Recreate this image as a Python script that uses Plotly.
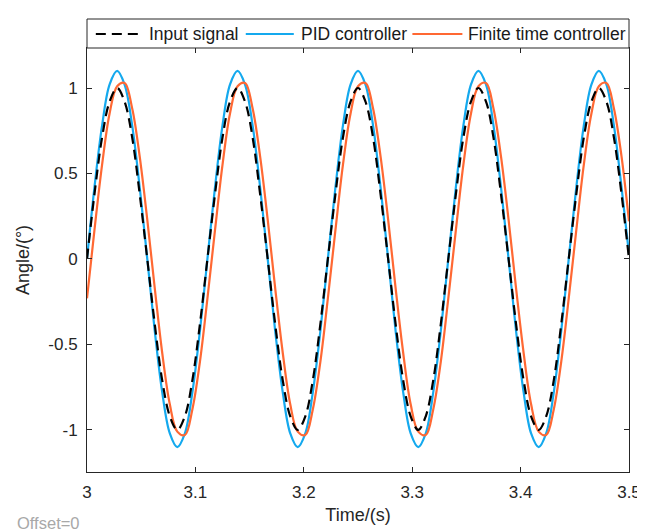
import plotly.graph_objects as go

# Time stamps (s)
time_s = [3.0000, 3.0069, 3.0139, 3.0208, 3.0278, 3.0347, 3.0417, 3.0486, 3.0556, 3.0625,
          3.0694, 3.0764, 3.0833, 3.0903, 3.0972, 3.1042, 3.1111, 3.1181, 3.1250, 3.1319,
          3.1389, 3.1458, 3.1528, 3.1597, 3.1667, 3.1736, 3.1806, 3.1875, 3.1944, 3.2014,
          3.2083, 3.2153, 3.2222, 3.2292, 3.2361, 3.2431, 3.2500, 3.2569, 3.2639, 3.2708,
          3.2778, 3.2847, 3.2917, 3.2986, 3.3056, 3.3125, 3.3194, 3.3264, 3.3333, 3.3403,
          3.3472, 3.3542, 3.3611, 3.3681, 3.3750, 3.3819, 3.3889, 3.3958, 3.4028, 3.4097,
          3.4167, 3.4236, 3.4306, 3.4375, 3.4444, 3.4514, 3.4583, 3.4653, 3.4722, 3.4792,
          3.4861, 3.4931, 3.5000]

# Angle values (deg)
input_signal = [0.00, 0.38, 0.71, 0.92, 1.00, 0.92, 0.71, 0.38, 0.00, -0.38, -0.71, -0.92, -1.00, -0.92, -0.71, -0.38,
                0.00, 0.38, 0.71, 0.92, 1.00, 0.92, 0.71, 0.38, 0.00, -0.38, -0.71, -0.92, -1.00, -0.92, -0.71, -0.38,
                0.00, 0.38, 0.71, 0.92, 1.00, 0.92, 0.71, 0.38, 0.00, -0.38, -0.71, -0.92, -1.00, -0.92, -0.71, -0.38,
                0.00, 0.38, 0.71, 0.92, 1.00, 0.92, 0.71, 0.38, 0.00, -0.38, -0.71, -0.92, -1.00, -0.92, -0.71, -0.38,
                0.00, 0.38, 0.71, 0.92, 1.00, 0.92, 0.71, 0.38, 0.00]

pid_controller = [0.00, 0.42, 0.78, 1.02, 1.10, 1.02, 0.78, 0.42, 0.00, -0.42, -0.78, -1.02, -1.10, -1.02, -0.78, -0.42,
                  0.00, 0.42, 0.78, 1.02, 1.10, 1.02, 0.78, 0.42, 0.00, -0.42, -0.78, -1.02, -1.10, -1.02, -0.78, -0.42,
                  0.00, 0.42, 0.78, 1.02, 1.10, 1.02, 0.78, 0.42, 0.00, -0.42, -0.78, -1.02, -1.10, -1.02, -0.78, -0.42,
                  0.00, 0.42, 0.78, 1.02, 1.10, 1.02, 0.78, 0.42, 0.00, -0.42, -0.78, -1.02, -1.10, -1.02, -0.78, -0.42,
                  0.00, 0.42, 0.78, 1.02, 1.10, 1.02, 0.78, 0.42, 0.03]

finite_time_controller = [-0.23, 0.17, 0.55, 0.85, 1.01, 1.03, 0.88, 0.60, 0.23, -0.17, -0.55, -0.85, -1.01, -1.03, -0.88, -0.60,
                          -0.23, 0.17, 0.55, 0.85, 1.01, 1.03, 0.88, 0.60, 0.23, -0.17, -0.55, -0.85, -1.01, -1.03, -0.88, -0.60,
                          -0.23, 0.17, 0.55, 0.85, 1.01, 1.03, 0.88, 0.60, 0.23, -0.17, -0.55, -0.85, -1.01, -1.03, -0.88, -0.60,
                          -0.23, 0.17, 0.55, 0.85, 1.01, 1.03, 0.88, 0.60, 0.23, -0.17, -0.55, -0.85, -1.01, -1.03, -0.88, -0.60,
                          -0.23, 0.17, 0.55, 0.85, 1.01, 1.03, 0.88, 0.60, 0.22]

x_ticks = [3, 3.1, 3.2, 3.3, 3.4, 3.5]
x_tick_labels = ["3", "3.1", "3.2", "3.3", "3.4", "3.5"]
y_ticks = [-1, -0.5, 0, 0.5, 1]
y_tick_labels = ["-1", "-0.5", "0", "0.5", "1"]
series_names = ["Input signal", "PID controller", "Finite time controller"]

BLACK = "#000000"
CYAN = "#14A9EE"
ORANGE = "#FF6833"
AX = "#262626"
FONT = "Liberation Sans, Arial, sans-serif"

fig = go.Figure()
fig.add_trace(go.Scatter(x=time_s, y=pid_controller, mode="lines", name=series_names[1],
                         line=dict(color=CYAN, width=2.2, shape="spline", smoothing=1.0), showlegend=False))
fig.add_trace(go.Scatter(x=time_s, y=finite_time_controller, mode="lines", name=series_names[2],
                         line=dict(color=ORANGE, width=2.2, shape="spline", smoothing=1.0), showlegend=False))
fig.add_trace(go.Scatter(x=time_s, y=input_signal, mode="lines", name=series_names[0],
                         line=dict(color=BLACK, width=2.2, dash="10px,6px", shape="spline", smoothing=1.0),
                         showlegend=False))

# Plot area in pixels: x 79..632, y 40..464
W, H = 645, 532
L, R, T, B = 79, 13, 40, 68
pw, ph = W - L - R, H - T - B

def px(xpix):
    return (xpix - L) / pw

def py(ypix):
    return (H - B - ypix) / ph

shapes = []
annotations = []
# legend box
shapes.append(dict(type="rect", xref="paper", yref="paper", x0=0, x1=1, y0=1, y1=py(11),
                   line=dict(color=AX, width=1), fillcolor="white", layer="above"))
leg_y = py(26)
legend_items = [
    (series_names[0], BLACK, "10px,6px", 88, 135, 140),
    (series_names[1], CYAN, "solid", 241, 290, 295),
    (series_names[2], ORANGE, "solid", 411, 462, 466),
]
for name, col, dash, x0, x1, xt in legend_items:
    shapes.append(dict(type="line", xref="paper", yref="paper", x0=px(x0), x1=px(x1), y0=leg_y, y1=leg_y,
                       line=dict(color=col, width=2.2, dash=dash), layer="above"))
    annotations.append(dict(text=name, xref="paper", yref="paper", x=px(xt), y=leg_y, xanchor="left",
                            yanchor="middle", showarrow=False, font=dict(family=FONT, size=17.5, color="#1a1a1a")))

annotations.append(dict(text="Offset=0", xref="paper", yref="paper", x=px(6), y=py(515), xanchor="left",
                        yanchor="middle", showarrow=False, font=dict(family=FONT, size=16.5, color="#A8A8A8")))

fig.update_layout(
    width=W, height=H,
    margin=dict(l=L, r=R, t=T, b=B),
    paper_bgcolor="white", plot_bgcolor="white",
    font=dict(family=FONT, size=17, color=AX),
    shapes=shapes, annotations=annotations,
    showlegend=False,
)
fig.update_xaxes(range=[3, 3.5], tickvals=x_ticks, ticktext=x_tick_labels,
                 showgrid=False, zeroline=False, showline=True, linecolor=AX, linewidth=1, mirror="ticks",
                 ticks="inside", ticklen=5, tickcolor=AX, tickfont=dict(size=17, color=AX),
                 ticklabelstandoff=5,
                 title=dict(text="Time/(s)", font=dict(size=18, color=AX), standoff=6))
fig.update_yaxes(range=[-1.246, 1.234], tickvals=y_ticks, ticktext=y_tick_labels,
                 showgrid=False, zeroline=False, showline=True, linecolor=AX, linewidth=1, mirror="ticks",
                 ticks="inside", ticklen=5, tickcolor=AX, tickfont=dict(size=17, color=AX),
                 ticklabelstandoff=5,
                 title=dict(text="Angle/(°)", font=dict(size=18, color=AX), standoff=14))

fig.write_html("out.html")
